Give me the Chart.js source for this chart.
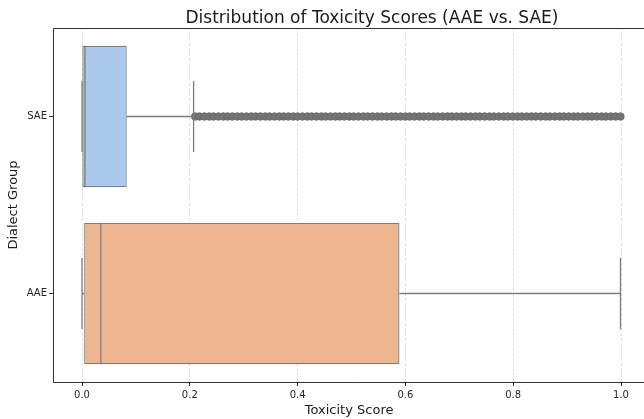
<!DOCTYPE html>
<html>
<head>
<meta charset="utf-8">
<script src="https://cdn.jsdelivr.net/npm/chart.js@4.4.0/dist/chart.umd.min.js"></script>
<style>
html, body { margin: 0; padding: 0; background: #fff; overflow: hidden; width: 644px; height: 419px; }
#wrap { position: absolute; left: 0; top: 0; width: 744px; height: 419px; }
#title { position: absolute; left: 0; top: 7px; width: 744px; text-align: center;
	font-family: 'DejaVu Sans', sans-serif; font-size: 17px; line-height: 20px; color: #1a1a1a; }
#mycanvas { position: absolute; left: 0; top: 0; display: block; }
</style>
</head>
<body>
<div id="wrap">
<canvas id="mycanvas" width="650" height="419"></canvas>
<div id="title">Distribution of Toxicity Scores (AAE vs. SAE)</div>
</div>
<script>
// box plot summary
var groups = ['SAE', 'AAE'];
var boxColors = ['#abc9ec', '#eeb68f'];
var lowWhisker = [0.0, 0.0];
var q1 = [0.0006, 0.004];
var median = [0.0055, 0.035];
var q3 = [0.083, 0.589];
var highWhisker = [0.207, 0.999];
// SAE fliers form one dense band from ~0.21 to 1.0
var saeOutliers = [0.210, 0.218, 0.227, 0.236, 0.244, 0.253, 0.262, 0.270, 0.279, 0.288,
	0.296, 0.305, 0.314, 0.322, 0.331, 0.340, 0.348, 0.357, 0.366, 0.374,
	0.383, 0.392, 0.400, 0.409, 0.418, 0.426, 0.435, 0.444, 0.452, 0.461,
	0.470, 0.478, 0.487, 0.496, 0.504, 0.513, 0.522, 0.530, 0.539, 0.548,
	0.556, 0.565, 0.574, 0.582, 0.591, 0.600, 0.608, 0.617, 0.626, 0.634,
	0.643, 0.652, 0.660, 0.669, 0.678, 0.686, 0.695, 0.704, 0.712, 0.721,
	0.730, 0.738, 0.747, 0.756, 0.764, 0.773, 0.782, 0.790, 0.799, 0.808,
	0.816, 0.825, 0.834, 0.842, 0.851, 0.860, 0.868, 0.877, 0.886, 0.894,
	0.903, 0.912, 0.920, 0.929, 0.938, 0.946, 0.955, 0.964, 0.972, 0.981,
	0.990, 0.999];
var xTicks = [0.0, 0.2, 0.4, 0.6, 0.8, 1.0];

var lineGray = '#7d7d7d';

function segment(points) {
	return {
		type: 'line',
		data: points,
		borderColor: lineGray,
		borderWidth: 1.3,
		pointRadius: 0,
		fill: false,
		order: 1
	};
}

var datasets = [];

datasets.push({
	type: 'bar',
	indexAxis: 'y',
	data: groups.map(function(g, i) { return { y: i, x: [q1[i], q3[i]] }; }),
	backgroundColor: boxColors,
	borderColor: lineGray,
	borderWidth: 1.3,
	borderSkipped: false,
	barPercentage: 0.8,
	categoryPercentage: 1.0,
	order: 3
});

for (var i = 0; i < groups.length; i++) {
	// whiskers
	datasets.push(segment([{ x: lowWhisker[i], y: i }, { x: q1[i], y: i }]));
	datasets.push(segment([{ x: q3[i], y: i }, { x: highWhisker[i], y: i }]));
	// caps
	datasets.push(segment([{ x: lowWhisker[i], y: i - 0.2 }, { x: lowWhisker[i], y: i + 0.2 }]));
	datasets.push(segment([{ x: highWhisker[i], y: i - 0.2 }, { x: highWhisker[i], y: i + 0.2 }]));
	// median
	datasets.push(segment([{ x: median[i], y: i - 0.4 }, { x: median[i], y: i + 0.4 }]));
}

datasets.push({
	type: 'scatter',
	data: saeOutliers.map(function(v) { return { x: v, y: 0 }; }),
	backgroundColor: '#747474',
	borderColor: '#6a6a6a',
	borderWidth: 0.8,
	pointRadius: 3.8,
	order: 2
});

// left, top and bottom spines (the right one falls outside the crop)
var framePlugin = {
	id: 'frame',
	afterDraw: function(chart) {
		var a = chart.chartArea, ctx = chart.ctx;
		var l = Math.round(a.left) + 0.5, t = Math.round(a.top) + 0.5, b = Math.round(a.bottom) + 0.5;
		ctx.save();
		ctx.strokeStyle = '#333333';
		ctx.lineWidth = 1;
		ctx.beginPath();
		ctx.moveTo(a.right + 10, t);
		ctx.lineTo(l, t);
		ctx.lineTo(l, b);
		ctx.lineTo(a.right + 10, b);
		ctx.stroke();
		ctx.restore();
	}
};

var ctx = document.getElementById('mycanvas');

var boxChart = new Chart(ctx, {
	type: 'bar',
	data: { datasets: datasets },
	plugins: [framePlugin],
	options: {
		responsive: false,
		animation: false,
		devicePixelRatio: 1,
		layout: { padding: { left: 0, right: 0, top: 28, bottom: 0 } },
		plugins: {
			legend: { display: false },
			tooltip: { enabled: false },
			title: { display: false }
		},
		scales: {
			x: {
				type: 'linear',
				position: 'bottom',
				offset: false,
				min: -0.0538,
				max: 1.054,
				afterBuildTicks: function(scale) {
					scale.ticks = xTicks.map(function(v) { return { value: v }; });
				},
				afterFit: function(scale) {
					scale.height = 37;
					scale.paddingLeft = 0;
					scale.paddingRight = 0;
				},
				ticks: {
					color: '#262626',
					font: { family: 'DejaVu Sans', size: 10 },
					padding: 3,
					maxRotation: 0,
					callback: function(v) { return Number(v).toFixed(1); }
				},
				grid: {
					offset: false,
					color: '#d6d6d6',
					lineWidth: 0.8,
					drawTicks: true,
					tickLength: 4,
					tickColor: '#333333',
					tickWidth: 1,
					tickBorderDash: []
				},
				border: { display: false, dash: [3, 2] },
				title: {
					display: true,
					text: 'Toxicity Score',
					color: '#1a1a1a',
					font: { family: 'DejaVu Sans', size: 13 },
					padding: { top: 0, bottom: 1 }
				}
			},
			y: {
				type: 'linear',
				position: 'left',
				offset: false,
				min: -0.5,
				max: 1.5,
				reverse: true,
				afterBuildTicks: function(scale) {
					scale.ticks = groups.map(function(g, i) { return { value: i }; });
				},
				afterFit: function(scale) {
					scale.width = 53;
					scale.paddingTop = 0;
					scale.paddingBottom = 0;
				},
				ticks: {
					color: '#262626',
					font: { family: 'DejaVu Sans', size: 10 },
					padding: 2,
					callback: function(v) { return groups[v]; }
				},
				grid: {
					offset: false,
					drawOnChartArea: false,
					drawTicks: true,
					tickLength: 4,
					tickColor: '#333333',
					tickWidth: 1
				},
				border: { display: false },
				title: {
					display: true,
					text: 'Dialect Group',
					color: '#1a1a1a',
					font: { family: 'DejaVu Sans', size: 13 },
					padding: { top: 6, bottom: 0 }
				}
			}
		}
	}
});

// keep 0.0 at x=82 and 1.0 at x=621 whatever width the plot area got
var area = boxChart.chartArea;
var pxPerUnit = 539;
var xMin = -(82 - area.left) / pxPerUnit;
boxChart.options.scales.x.min = xMin;
boxChart.options.scales.x.max = xMin + (area.right - area.left) / pxPerUnit;
boxChart.update();
</script>
</body>
</html>
